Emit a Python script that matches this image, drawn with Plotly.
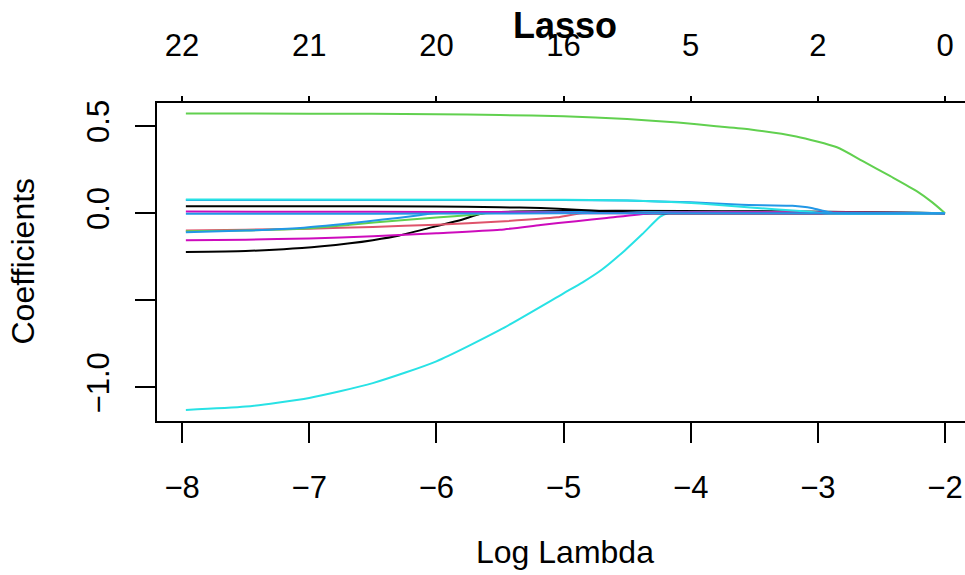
import plotly.graph_objects as go

# ---- data (log lambda vs coefficient) ----
xticks = [-8, -7, -6, -5, -4, -3, -2]
xtick_text = ["\u22128", "\u22127", "\u22126", "\u22125", "\u22124", "\u22123", "\u22122"]
top_labels = ["22", "21", "20", "16", "5", "2", "0"]
yticks = [-1.0, -0.5, 0.0, 0.5]
ytick_text = ["\u22121.0", "", "0.0", "0.5"]

cyan_big_x = [-7.97, -7.5, -7.0, -6.5, -6.0, -5.5, -5.0, -4.85, -4.7, -4.52, -4.38, -4.24, -4.18, -2.0]
cyan_big_y = [-1.129, -1.110, -1.060, -0.975, -0.850, -0.670, -0.460, -0.397, -0.325, -0.215, -0.120, -0.020, 0.0, 0.0]

green_big_x = [-7.97, -7.0, -6.0, -5.5, -5.0, -4.5, -4.1, -3.8, -3.53, -3.17, -2.85, -2.65, -2.43, -2.22, -2.1, -2.0]
green_big_y = [0.572, 0.571, 0.568, 0.563, 0.556, 0.540, 0.520, 0.499, 0.480, 0.440, 0.378, 0.300, 0.212, 0.125, 0.062, 0.0]

black_neg_x = [-7.97, -7.5, -7.2, -6.9, -6.68, -6.5, -6.29, -6.03, -5.8, -5.63, -2.0]
black_neg_y = [-0.223, -0.217, -0.207, -0.190, -0.173, -0.155, -0.128, -0.080, -0.038, 0.0, 0.0]

red_x = [-7.97, -7.5, -7.0, -6.5, -6.0, -5.5, -5.05, -4.85, -2.0]
red_y = [-0.100, -0.095, -0.089, -0.079, -0.066, -0.048, -0.024, 0.0, 0.0]

green_small_x = [-7.97, -7.5, -7.07, -6.68, -6.3, -6.0, -5.71, -5.6, -2.0]
green_small_y = [-0.104, -0.099, -0.090, -0.066, -0.042, -0.025, -0.009, 0.0, 0.0]

blue_small_x = [-7.97, -7.5, -7.07, -6.68, -6.42, -6.15, -6.02, -2.0]
blue_small_y = [-0.110, -0.100, -0.085, -0.058, -0.037, -0.014, 0.0, 0.0]

magenta_neg_x = [-7.97, -7.5, -7.0, -6.5, -6.0, -5.5, -5.18, -4.9, -4.66, -4.3, -2.0]
magenta_neg_y = [-0.156, -0.152, -0.145, -0.133, -0.115, -0.095, -0.068, -0.046, -0.028, 0.0, 0.0]

black_pos_x = [-7.97, -7.0, -6.0, -5.5, -5.18, -4.9, -4.66, -4.35, -2.0]
black_pos_y = [0.039, 0.040, 0.038, 0.034, 0.029, 0.020, 0.010, 0.0, 0.0]

magenta_pos_x = [-7.97, -6.5, -5.5, -5.1, -4.8, -2.0]
magenta_pos_y = [0.009, 0.008, 0.006, 0.003, 0.0, 0.0]

cyan_pos_x = [-7.97, -5.0, -4.5, -4.2, -3.93, -3.53, -3.14, -2.95, -2.0]
cyan_pos_y = [0.078, 0.077, 0.072, 0.066, 0.055, 0.032, 0.013, 0.0, 0.0]

blue_pos_x = [-7.97, -5.0, -4.5, -4.0, -3.6, -3.2, -3.05, -2.95, -2.87, -2.0]
blue_pos_y = [0.075, 0.075, 0.072, 0.062, 0.048, 0.042, 0.030, 0.012, 0.0, 0.0]

blue_zero_x = [-7.97, -6.5, -5.0, -4.5, -2.0]
blue_zero_y = [-0.004, -0.003, -0.001, 0.0, 0.0]

BLACK = "#000000"
RED = "#DF536B"
GREEN = "#61D04F"
BLUE = "#2297E6"
CYAN = "#28E2E5"
MAGENTA = "#CD0BBC"

series = [
    (cyan_big_x, cyan_big_y, CYAN),
    (green_big_x, green_big_y, GREEN),
    (black_neg_x, black_neg_y, BLACK),
    (red_x, red_y, RED),
    (green_small_x, green_small_y, GREEN),
    (blue_small_x, blue_small_y, BLUE),
    (magenta_neg_x, magenta_neg_y, MAGENTA),
    (black_pos_x, black_pos_y, BLACK),
    (magenta_pos_x, magenta_pos_y, MAGENTA),
    (blue_pos_x, blue_pos_y, BLUE),
    (cyan_pos_x, cyan_pos_y, CYAN),
    (blue_zero_x, blue_zero_y, BLUE),
]

FONT = "Liberation Sans, Arial, Helvetica, sans-serif"

fig = go.Figure()
for xs, ys, col in series:
    fig.add_trace(go.Scatter(x=xs, y=ys, mode="lines",
                             line=dict(color=col, width=2, shape="spline", smoothing=0.6),
                             showlegend=False, hoverinfo="skip"))

# invisible trace on top axis so it renders
fig.add_trace(go.Scatter(x=[-8, -2], y=[0, 0], xaxis="x2", mode="lines",
                         line=dict(width=0), showlegend=False, hoverinfo="skip"))

XR = [-8.197, -1.843]
fig.update_layout(
    width=965, height=575,
    margin=dict(l=157, r=0, t=103, b=154),
    paper_bgcolor="white", plot_bgcolor="white",
    font=dict(family=FONT, color="black", size=31),
    xaxis=dict(range=XR, tickvals=xticks, ticktext=xtick_text,
               showgrid=False, zeroline=False, showline=True, linecolor="black", linewidth=1.6,
               ticks="outside", ticklen=20, tickwidth=1.6, tickcolor="black",
               tickfont=dict(size=31), ticklabelstandoff=18, automargin=False),
    xaxis2=dict(range=XR, overlaying="x", side="top", anchor="y",
                tickvals=xticks, ticktext=top_labels,
                showgrid=False, zeroline=False, showline=True, linecolor="black", linewidth=1.6,
                ticks="outside", ticklen=5, tickwidth=1.6, tickcolor="black",
                tickfont=dict(size=31), ticklabelstandoff=28, automargin=False),
    yaxis=dict(range=[-1.1925, 0.632], tickvals=yticks, ticktext=ytick_text, tickangle=-90,
               showgrid=False, zeroline=False, showline=True, linecolor="black", linewidth=1.6,
               ticks="outside", ticklen=20, tickwidth=1.6, tickcolor="black",
               tickfont=dict(size=31), ticklabelstandoff=14, automargin=False),
    annotations=[
        dict(text="<b>Lasso</b>", xref="paper", yref="paper", x=0.505, y=1.245,
             xanchor="center", yanchor="middle", showarrow=False, font=dict(size=36)),
        dict(text="Log Lambda", xref="paper", yref="paper", x=0.505, y=-0.412,
             xanchor="center", yanchor="middle", showarrow=False, font=dict(size=32)),
        dict(text="Coefficients", xref="paper", yref="paper", x=-0.1658, y=0.5016,
             xanchor="center", yanchor="middle", textangle=-90, showarrow=False,
             font=dict(size=32)),
    ],
)

fig.write_html("out.html", config={"displayModeBar": False},
               post_script="document.body.style.margin='0px';")
